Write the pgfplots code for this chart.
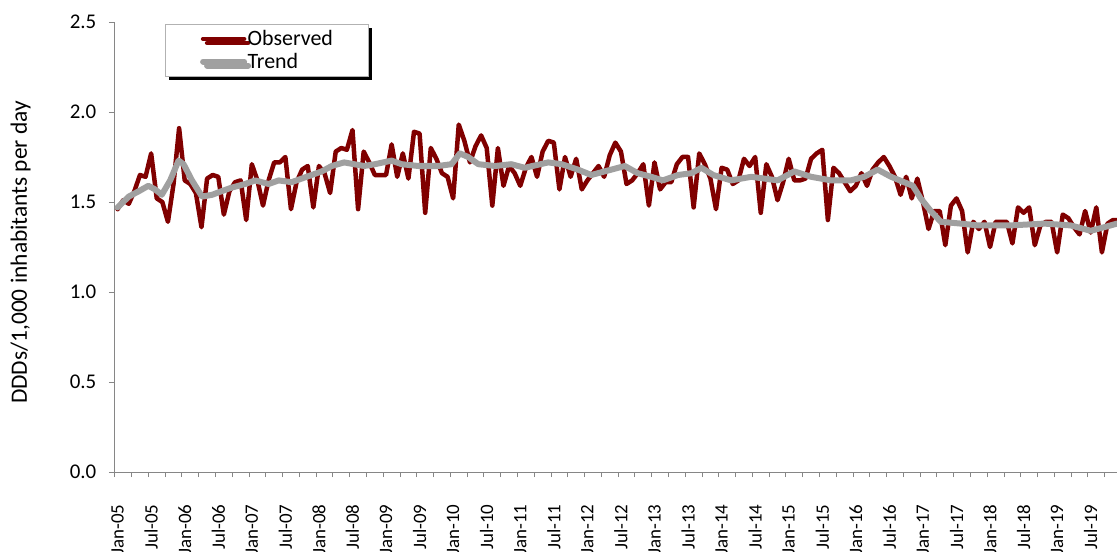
\documentclass[border=0pt]{standalone}
\usepackage{fontspec}
\setmainfont{Carlito}
\usepackage{pgfplots}
\pgfplotsset{compat=1.18}
\usepackage{pgfplotstable}
\usetikzlibrary{shadows,calc}

\definecolor{observed}{RGB}{128,0,0}
\definecolor{trendgray}{RGB}{160,160,160}
\definecolor{axisgray}{RGB}{134,134,134}

% Monthly DDDs/1,000 inhabitants per day, month 0 = Jan-05
\pgfplotstableread{
m v
0 1.46
1 1.51
2 1.49
3 1.56
4 1.65
5 1.64
6 1.77
7 1.52
8 1.50
9 1.39
10 1.60
11 1.91
12 1.62
13 1.60
14 1.55
15 1.36
16 1.63
17 1.65
18 1.64
19 1.43
20 1.56
21 1.61
22 1.62
23 1.40
24 1.71
25 1.62
26 1.48
27 1.62
28 1.72
29 1.72
30 1.75
31 1.46
32 1.61
33 1.68
34 1.70
35 1.47
36 1.70
37 1.66
38 1.55
39 1.78
40 1.80
41 1.79
42 1.90
43 1.46
44 1.78
45 1.72
46 1.65
47 1.65
48 1.65
49 1.82
50 1.64
51 1.77
52 1.63
53 1.89
54 1.88
55 1.44
56 1.80
57 1.74
58 1.66
59 1.64
60 1.52
61 1.93
62 1.84
63 1.72
64 1.81
65 1.87
66 1.80
67 1.48
68 1.80
69 1.59
70 1.70
71 1.66
72 1.59
73 1.69
74 1.75
75 1.64
76 1.78
77 1.84
78 1.83
79 1.57
80 1.75
81 1.64
82 1.74
83 1.57
84 1.62
85 1.66
86 1.70
87 1.64
88 1.76
89 1.83
90 1.78
91 1.60
92 1.62
93 1.66
94 1.71
95 1.48
96 1.72
97 1.57
98 1.61
99 1.61
100 1.71
101 1.75
102 1.75
103 1.47
104 1.77
105 1.71
106 1.63
107 1.46
108 1.69
109 1.68
110 1.60
111 1.62
112 1.74
113 1.70
114 1.75
115 1.44
116 1.71
117 1.64
118 1.51
119 1.61
120 1.74
121 1.62
122 1.62
123 1.63
124 1.74
125 1.77
126 1.79
127 1.40
128 1.69
129 1.66
130 1.61
131 1.56
132 1.59
133 1.66
134 1.59
135 1.68
136 1.72
137 1.75
138 1.70
139 1.64
140 1.54
141 1.64
142 1.52
143 1.63
144 1.50
145 1.35
146 1.45
147 1.45
148 1.26
149 1.48
150 1.52
151 1.45
152 1.22
153 1.39
154 1.35
155 1.39
156 1.25
157 1.39
158 1.39
159 1.39
160 1.27
161 1.47
162 1.44
163 1.47
164 1.26
165 1.37
166 1.39
167 1.39
168 1.22
169 1.43
170 1.41
171 1.36
172 1.32
173 1.45
174 1.33
175 1.47
176 1.22
177 1.38
178 1.40
179 1.40
}\observedtbl

\pgfplotstableread{
m v
0 1.47
2 1.53
3.8 1.56
5.5 1.59
6.7 1.57
7.9 1.54
9.4 1.62
10.9 1.73
11.8 1.71
13.3 1.62
15.1 1.53
16.9 1.54
18.6 1.56
20.4 1.58
22.8 1.60
24.6 1.62
27 1.60
28.8 1.62
31.1 1.61
32.9 1.63
34.7 1.65
36.5 1.67
38.3 1.70
40.5 1.72
42.3 1.71
44.1 1.70
46 1.71
49 1.73
50.8 1.71
53.8 1.70
57.3 1.70
59.7 1.71
61.2 1.77
62.7 1.75
64.5 1.71
67.5 1.70
70.4 1.71
72.8 1.69
77 1.72
79.4 1.71
82.3 1.68
84.7 1.65
87.1 1.67
90.7 1.70
93 1.66
95.4 1.64
97.5 1.62
100.2 1.65
102.6 1.66
104.4 1.69
106.5 1.65
109.7 1.62
113.3 1.64
118 1.62
121 1.67
124 1.64
127.6 1.62
131.1 1.62
133.5 1.64
135.9 1.68
138.3 1.64
142.2 1.59
143.6 1.52
145.4 1.45
147.2 1.39
150.8 1.38
153.8 1.37
159.7 1.37
165.7 1.38
170.4 1.37
174 1.34
176.4 1.36
178.7 1.38
}\trendtbl

\begin{document}
\begin{tikzpicture}
\begin{axis}[
  scale only axis,
  width=1002.2bp, height=450bp,
  xmin=-0.5, xmax=178.7,
  ymin=0, ymax=2.5,
  axis lines*=left,
  axis line style={axisgray, line width=0.9bp},
  tick align=outside,
  tick style={axisgray, line width=0.9bp},
  major tick length=6bp,
  minor tick length=5bp,
  ytick={0,0.5,...,2.5},
  y tick label style={font=\fontsize{21}{24}\selectfont, black, xshift=-9bp,
    /pgf/number format/fixed, /pgf/number format/fixed zerofill,
    /pgf/number format/precision=1, /pgf/number format/assume math mode=true},
  xtick={0,6,...,174},
  xticklabels={Jan-05,Jul-05,Jan-06,Jul-06,Jan-07,Jul-07,Jan-08,Jul-08,Jan-09,Jul-09,
    Jan-10,Jul-10,Jan-11,Jul-11,Jan-12,Jul-12,Jan-13,Jul-13,Jan-14,Jul-14,
    Jan-15,Jul-15,Jan-16,Jul-16,Jan-17,Jul-17,Jan-18,Jul-18,Jan-19,Jul-19},
  major x tick style={draw=none},
  minor xtick={-0.5,2.5,...,178},
  x tick label style={rotate=90, anchor=east, font=\fontsize{19}{22}\selectfont, black},
  xticklabel shift=23bp,
  every axis y label/.style={at={(axis description cs:-0.094,0.488)}, rotate=90, anchor=center, font=\fontsize{23.5}{28}\selectfont},
  ylabel={DDDs/1,000 inhabitants per day},
  legend style={at={(axis description cs:0.05,0.995)}, anchor=north west,
    draw=gray!60, fill=white,
    drop shadow={shadow xshift=4bp, shadow yshift=-4bp, fill=black, opacity=1},
    inner xsep=35bp, inner ysep=4bp, row sep=2bp,
    nodes={inner xsep=0.5bp, inner ysep=2bp},
    font=\fontsize{22}{26}\selectfont},
  legend cell align=left,
  legend image code/.code={\draw[#1, line cap=round] (1bp,0bp) -- (42bp,0bp);},
]
\addplot[observed, line width=4.5bp, line join=round, line cap=round] table[x=m, y=v] {\observedtbl};
\addlegendentry{Observed}
\addplot[trendgray, line width=6bp, line join=round, line cap=round] table[x=m, y=v] {\trendtbl};
\addlegendentry{Trend}
\coordinate (sw) at (rel axis cs:0,0);
\coordinate (ne) at (rel axis cs:1,1);
\end{axis}
\pgfresetboundingbox
\path ($(sw)+(-114.8bp,-79bp)$) rectangle ($(ne)+(0bp,22bp)$);
\end{tikzpicture}
\end{document}
